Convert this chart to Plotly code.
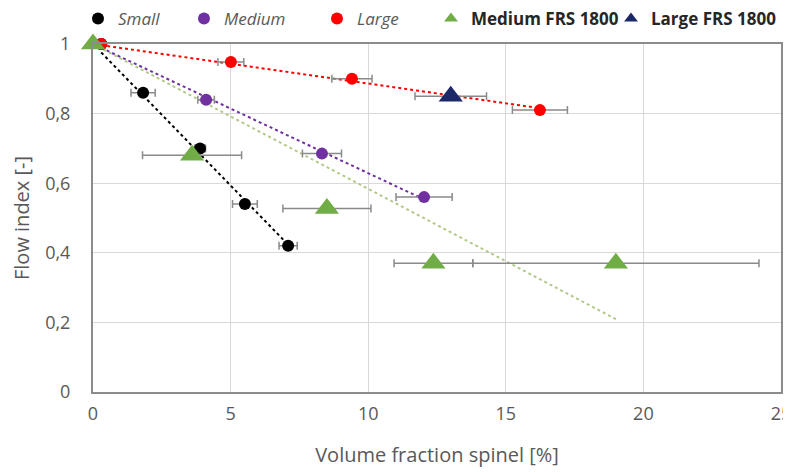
import numpy as np
import plotly.graph_objects as go

# ---- data ----
small_x = [0.3, 1.82, 3.89, 5.52, 7.09]
small_y = [1.0, 0.86, 0.70, 0.54, 0.42]
small_err = [0.0, 0.44, 0.2, 0.45, 0.33]

medium_x = [0.3, 4.11, 8.32, 12.03]
medium_y = [1.0, 0.84, 0.685, 0.56]
medium_err = [0.0, 0.3, 0.71, 1.02]

large_x = [0.3, 5.01, 9.41, 16.24]
large_y = [1.0, 0.948, 0.90, 0.81]
large_err = [0.0, 0.47, 0.73, 1.0]

mfrs_x = [0.0, 3.6, 8.5, 12.37, 19.0]
mfrs_y = [1.0, 0.68, 0.527, 0.37, 0.37]
mfrs_err = [0.0, 1.8, 1.6, 1.43, 5.2]

lfrs_x = [13.0]
lfrs_y = [0.85]
lfrs_err = [1.3]

x_ticks = [0, 5, 10, 15, 20, 25]
y_ticks = [0, 0.2, 0.4, 0.6, 0.8, 1.0]

FONT = "Open Sans"
TXT = "#595959"
ERR = "#8a8a8a"

OFF = 8  # page body margin
W, H = 791 - OFF, 472 - OFF
ML, MR, MT, MB = 93 - OFF, 10, 44 - OFF, 80


def trend(xs, ys):
    # linear trendline with intercept fixed at 1 (Excel-style)
    xs = np.array(xs, float)
    ys = np.array(ys, float)
    slope = np.sum(xs * (ys - 1.0)) / np.sum(xs * xs)
    xx = np.array([xs.min(), xs.max()])
    return xx, 1.0 + slope * xx


fig = go.Figure()

series = [
    ("Small", small_x, small_y, small_err, "#000000", "#000000", "circle", 12, "italic", "normal"),
    ("Medium", medium_x, medium_y, medium_err, "#7030A0", "#7030A0", "circle", 12, "italic", "normal"),
    ("Large", large_x, large_y, large_err, "#FF0000", "#FF0000", "circle", 12, "italic", "normal"),
    ("Medium FRS 1800", mfrs_x, mfrs_y, mfrs_err, "#70AD47", "#B3C98A", "triangle-up", 21, "normal", "bold"),
    ("Large FRS 1800", lfrs_x, lfrs_y, lfrs_err, "#1A2868", None, "triangle-up", 21, "normal", "bold"),
]

# trendlines first
for name, xs, ys, errs, col, tcol, sym, size, style, weight in series:
    if tcol is None or len(xs) < 2:
        continue
    tx, ty = trend(xs, ys)
    fig.add_trace(go.Scatter(x=tx, y=ty, mode="lines", showlegend=False,
                             line=dict(color=tcol, width=2, dash="dot"),
                             hoverinfo="skip"))

legend_px = [101, 207, 340, 454, 634]
legends = {}
for i, (name, xs, ys, errs, col, tcol, sym, size, style, weight) in enumerate(series):
    lname = "legend" if i == 0 else f"legend{i+1}"
    fig.add_trace(go.Scatter(
        x=xs, y=ys, mode="markers", name=name, legend=lname, cliponaxis=False,
        marker=dict(color=col, size=size, symbol=sym, line=dict(width=0)),
        error_x=dict(type="data", array=errs, visible=True, color=ERR,
                     thickness=1.5, width=4),
    ))
    legends[lname] = dict(
        xref="container", yref="container",
        x=(legend_px[i] - 23 - OFF) / W, xanchor="left",
        y=1 - (19 - OFF) / H, yanchor="middle",
        orientation="h", bgcolor="rgba(0,0,0,0)", itemsizing="constant",
        font=dict(family=FONT, size=17, color="#262626" if weight == "bold" else TXT,
                  style=style, weight=weight),
    )

fig.update_layout(
    width=W, height=H,
    margin=dict(l=ML, r=MR, t=MT, b=MB, autoexpand=False),
    paper_bgcolor="white", plot_bgcolor="white",
    separators=", ",
    font=dict(family=FONT, size=18, color=TXT),
    **legends,
)

fig.update_xaxes(range=[0, 25], tickvals=x_ticks, showgrid=True, gridcolor="#d9d9d9",
                 gridwidth=1, showline=True, linecolor="#8c8c8c", linewidth=2, mirror=True,
                 zeroline=False, ticks="", ticklabelstandoff=4, ticklabeloverflow="allow",
                 tickfont=dict(family=FONT, size=18, color=TXT),
                 title=dict(text="Volume fraction spinel [%]", standoff=24,
                            font=dict(family=FONT, size=20, color=TXT)))
fig.update_yaxes(range=[0, 1], tickvals=y_ticks, showgrid=True, gridcolor="#d9d9d9",
                 gridwidth=1, showline=True, linecolor="#8c8c8c", linewidth=2, mirror=True,
                 zeroline=False, ticks="", ticklabelstandoff=17, ticklabeloverflow="allow",
                 tickfont=dict(family=FONT, size=18, color=TXT),
                 title=dict(text="Flow index [-]", standoff=22,
                            font=dict(family=FONT, size=20, color=TXT)))

fig.write_html("out.html")
